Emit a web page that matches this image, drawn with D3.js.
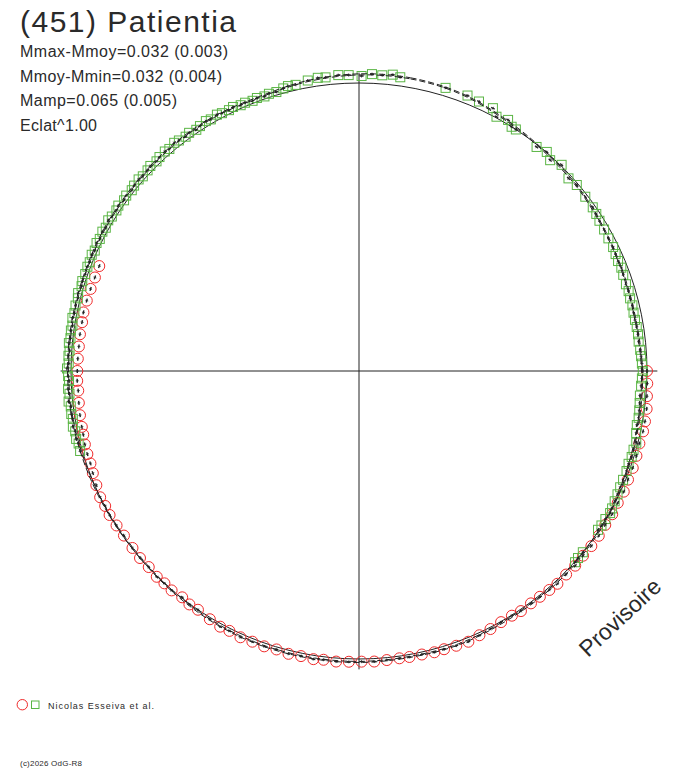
<!DOCTYPE html>
<html>
<head>
<meta charset="utf-8">
<script src="https://cdn.jsdelivr.net/npm/d3@7"></script>
<style>
body{margin:0;background:#fff;}
text{font-family:"Liberation Sans",Arial,sans-serif;fill:#2a2a2a;}
</style>
</head>
<body>
<div id="chart"></div>
<script>
// phase in degrees (clockwise from top), mag = magnitude minus mean magnitude
let greenPhase = [254,255.5,256.5,258,259,260.5,261.5,263,264,265.5,266.5,268,269,270.5,271.5,273,274,275.5,276.5,278,279,280.5,281.5,283,284.5,285.5,287,288,289.5,
  291,292,293.5,294.5,296,297,298.5,299.5,301,302,303.5,304.5,306,307,308.5,309.5,311,312,313.5,314.5,316,317,318.5,319.5,321,322,323.5,324.5,326,327,328.5,329.5,331,332,333.5,334.5,336,337,338.5,339.5,341,342,343.5,345,346,347.5,
  350,352,353.5,356,358,360.5,362.5,364.5,366.5,368,
  377,381.5,384,387,388.4,390.7,392,393,398.4,400.6,402.2,404.5,407.4,409.5,412.4,415,416.5,
  418,420,422,424,425.5,427,428.5,430,432,433.5,435,436.5,438,439.5,441,442.5,444,445.7,447,448.5,450,451.5,453,455,456.5,458,459.5,461,462.6,
  464.5,466,467.5,469,470.5,472.4,474,475.5,477,478.5,479.5,481,482.5,483.6,489,490.5,491.5];
let greenMag = [-0.008,-0.006,-0.011,-0.008,-0.013,-0.008,-0.011,-0.009,-0.015,-0.009,-0.013,-0.008,-0.011,-0.015,-0.009,-0.011,-0.008,-0.013,-0.009,-0.011,-0.008,-0.013,-0.009,-0.011,-0.009,-0.013,-0.008,-0.011,-0.009,
  -0.011,-0.009,-0.013,-0.009,-0.015,-0.011,-0.015,-0.011,-0.017,-0.013,-0.011,-0.015,-0.009,-0.013,-0.009,-0.013,-0.015,-0.011,-0.013,-0.017,-0.013,-0.017,-0.019,-0.015,-0.021,-0.017,-0.013,-0.017,-0.011,-0.015,-0.019,-0.015,-0.019,-0.015,-0.013,-0.017,-0.011,-0.013,-0.009,-0.013,-0.009,-0.013,-0.011,-0.017,-0.021,-0.019,
  -0.026,-0.030,-0.028,-0.032,-0.030,-0.026,-0.034,-0.032,-0.038,-0.032,
  -0.030,-0.030,-0.026,-0.026,-0.004,-0.015,0.000,0.000,0.008,-0.002,0.013,-0.004,0.013,0.006,0.009,0.010,0.013,
  0.017,0.019,0.021,0.020,0.023,0.025,0.023,0.026,0.028,0.026,0.028,0.026,0.028,0.028,0.026,0.025,0.026,0.023,0.021,0.019,0.016,0.019,0.021,0.023,0.021,0.019,0.017,0.019,0.015,
  0.006,0.009,0.008,0.011,0.009,0.009,0.008,0.006,0.004,0.000,-0.002,0.002,0.002,0.004,0.000,0.000,-0.002];

let redPhase = [90,92.5,95,97.5,100,102,104.5,107,109.5,112,114.5,117,119.5,122,124.5,127,129.5,132,134.5,137,139,141.3,143.5,146,148,150.5,153,155.5,158,160.5,163,165,167.5,170,172,174.5,177,179.5,
  182,184.5,187,189,191.5,194,196.5,199,201.5,204,206.5,208.5,211,214,216,218,220.5,222.5,224.5,227,229.5,232,235,237.5,240,242,244,246.5,249,251,253,255,257,258.6,261,263.5,266,268,270,272.5,275,277.5,280,282,284.5,287,289.5,292];
let redMag = [0.000,-0.002,-0.004,-0.008,-0.009,-0.009,-0.006,-0.008,-0.009,-0.008,-0.011,-0.009,-0.011,-0.009,-0.011,-0.011,-0.009,-0.011,-0.009,-0.011,-0.008,-0.005,-0.004,-0.006,-0.002,-0.002,-0.006,-0.009,-0.015,-0.013,-0.011,-0.012,-0.009,-0.009,-0.008,-0.009,-0.011,-0.010,
  -0.011,-0.013,-0.011,-0.014,-0.011,-0.013,-0.009,-0.012,-0.011,-0.013,-0.009,-0.011,-0.006,0.000,-0.002,0.003,-0.002,0.000,-0.002,0.002,0.000,0.002,0.004,0.002,0.000,0.002,0.000,0.006,0.011,0.015,0.015,0.016,0.019,0.020,0.021,0.023,0.025,0.023,0.024,0.025,0.026,0.025,0.026,0.024,0.026,0.028,0.030,0.030];

// fitted curve
let fitPhase = [0,10,20,30,40,50,60,70,80,90,100,110,120,130,140,150,160,170,180,190,200,210,220,230,240,250,260,270,280,290,300,310,320,330,340,350];
let fitMag = [-0.032,-0.034,-0.028,-0.011,0.002,0.009,0.019,0.025,0.026,0.019,0.015,0.008,0.000,-0.004,-0.006,-0.006,-0.011,-0.009,-0.011,-0.011,-0.011,-0.008,-0.002,0.002,0.000,-0.004,-0.009,-0.011,-0.011,-0.011,-0.013,-0.013,-0.017,-0.017,-0.013,-0.024];

let statLines = ["Mmax-Mmoy=0.032 (0.003)","Mmoy-Mmin=0.032 (0.004)","Mamp=0.065 (0.005)","Eclat^1.00"];
let statWidths = [208,202,157,77];

let width = 688, height = 768;
let cx = 359, cy = 371, R0 = 288;
let redColor = "#f02a2a", greenColor = "#5ab544";

let svg = d3.select("#chart").append("svg").attr("width", width).attr("height", height);
svg.append("rect").attr("width", width).attr("height", height).attr("fill", "#fff");

let flux = m => Math.pow(10, -0.4 * m);
let r = d3.scaleLinear().domain([0, 1]).range([0, R0]);
let ang = d3.scaleLinear().domain([0, 360]).range([0, 2 * Math.PI]);

function pos(p, m) {
  let a = ang(p), rr = r(flux(m));
  return [rr * Math.sin(a), -rr * Math.cos(a), a];
}

let plot = svg.append("g").attr("transform", "translate(" + cx + "," + cy + ")");

// mean circle + axes
plot.append("circle").attr("r", r(1)).attr("fill", "none").attr("stroke", "#222").attr("stroke-width", 1);
let ext = r(1.036);
plot.append("line").attr("x1", -ext).attr("x2", ext).attr("y1", 0).attr("y2", 0).attr("stroke", "#222");
plot.append("line").attr("y1", -ext).attr("y2", ext).attr("x1", 0).attr("x2", 0).attr("stroke", "#222");

let red = redPhase.map((p, i) => pos(p, redMag[i]));
let green = greenPhase.map((p, i) => pos(p, greenMag[i]));

plot.selectAll(".red").data(red).enter().append("circle")
  .attr("class", "red")
  .attr("cx", d => d[0]).attr("cy", d => d[1]).attr("r", 5.5)
  .attr("fill", "none").attr("stroke", redColor).attr("stroke-width", 1);

plot.selectAll(".green").data(green).enter().append("rect")
  .attr("class", "green")
  .attr("x", d => d[0] - 4.5).attr("y", d => d[1] - 4.5)
  .attr("width", 9).attr("height", 9)
  .attr("fill", "none").attr("stroke", greenColor).attr("stroke-width", 1);

// small black error marks on every point
let allPts = red.concat(green);
plot.selectAll(".tick-t").data(allPts).enter().append("line")
  .attr("class", "tick-t")
  .attr("x1", d => d[0] - 2 * Math.cos(d[2])).attr("y1", d => d[1] - 2 * Math.sin(d[2]))
  .attr("x2", d => d[0] + 2 * Math.cos(d[2])).attr("y2", d => d[1] + 2 * Math.sin(d[2]))
  .attr("stroke", "#222").attr("stroke-width", 1.4);
plot.selectAll(".tick-r").data(allPts).enter().append("line")
  .attr("class", "tick-r")
  .attr("x1", d => d[0] - 1.5 * Math.sin(d[2])).attr("y1", d => d[1] + 1.5 * Math.cos(d[2]))
  .attr("x2", d => d[0] + 1.5 * Math.sin(d[2])).attr("y2", d => d[1] - 1.5 * Math.cos(d[2]))
  .attr("stroke", "#222").attr("stroke-width", 0.8);

// fit curve (two dashed lines)
let fitData = fitPhase.map((p, i) => ({p: p, m: fitMag[i]}));
[-0.002, 0.002].forEach(off => {
  let ln = d3.lineRadial()
    .angle(d => ang(d.p))
    .radius(d => r(flux(d.m + off)))
    .curve(d3.curveCardinalClosed);
  plot.append("path").datum(fitData)
    .attr("d", ln)
    .attr("fill", "none").attr("stroke", "#222").attr("stroke-width", 1)
    .attr("stroke-dasharray", "6,3");
});

// texts
svg.append("text").attr("x", 20).attr("y", 32).style("font-size", "30px")
  .attr("textLength", 216).text("(451) Patientia");

svg.selectAll(".stat").data(statLines).enter().append("text")
  .attr("class", "stat")
  .attr("x", 20).attr("y", (d, i) => 57 + i * 24.5)
  .attr("textLength", (d, i) => statWidths[i])
  .style("font-size", "16px")
  .text(d => d);

svg.append("text")
  .attr("transform", "translate(588,658) rotate(-43)")
  .style("font-size", "23px")
  .text("Provisoire");

// legend
svg.append("circle").attr("cx", 22.3).attr("cy", 704.7).attr("r", 5.2)
  .attr("fill", "none").attr("stroke", redColor);
svg.append("rect").attr("x", 31.5).attr("y", 701).attr("width", 7.5).attr("height", 7.5)
  .attr("fill", "none").attr("stroke", greenColor);
svg.append("text").attr("x", 48).attr("y", 708.5).style("font-size", "9px")
  .attr("textLength", 106).text("Nicolas Esseiva et al.");

svg.append("text").attr("x", 20).attr("y", 766).style("font-size", "8px")
  .attr("textLength", 62).text("(c)2026 OdG-R8");
</script>
</body>
</html>
